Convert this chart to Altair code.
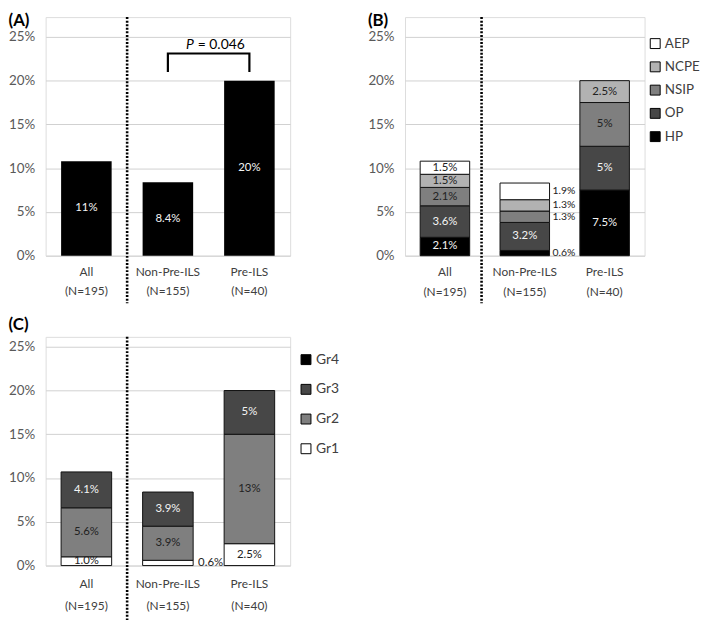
import altair as alt
import pandas as pd

FONT = "Lato"

# ---------------- data ----------------
groups = ["All", "Non-Pre-ILS", "Pre-ILS"]
group_n = ["(N=195)", "(N=155)", "(N=40)"]

# Panel A
a_values = [10.8, 8.4, 20.0]
a_labels = ["11%", "8.4%", "20%"]

# Panel B (bottom -> top)
b_types = ["HP", "OP", "NSIP", "NCPE", "AEP"]
b_colors = ["#000000", "#474747", "#7f7f7f", "#b2b2b2", "#ffffff"]
b_text_colors = ["#f4f4f4", "#f4f4f4", "#222222", "#222222", "#222222"]
b_all = [2.1, 3.6, 2.1, 1.5, 1.5]
b_non = [0.6, 3.2, 1.3, 1.3, 1.9]
b_pre = [7.5, 5.0, 5.0, 2.5, 0.0]
b_all_lab = ["2.1%", "3.6%", "2.1%", "1.5%", "1.5%"]
b_non_lab = ["0.6%", "3.2%", "1.3%", "1.3%", "1.9%"]
b_pre_lab = ["7.5%", "5%", "5%", "2.5%", ""]
b_non_outside = [True, False, True, True, True]

# Panel C (bottom -> top)
c_types = ["Gr1", "Gr2", "Gr3", "Gr4"]
c_colors = ["#ffffff", "#7f7f7f", "#474747", "#000000"]
c_text_colors = ["#222222", "#222222", "#f4f4f4", "#f4f4f4"]
c_all = [1.0, 5.6, 4.1, 0.0]
c_non = [0.6, 3.9, 3.9, 0.0]
c_pre = [2.5, 12.5, 5.0, 0.0]
c_all_lab = ["1.0%", "5.6%", "4.1%", ""]
c_non_lab = ["0.6%", "3.9%", "3.9%", ""]
c_pre_lab = ["2.5%", "13%", "5%", ""]
c_non_outside = [True, False, False, False]

p_text = "= 0.046"
bracket_low, bracket_high = 21.0, 23.1
y_ticks = [0, 5, 10, 15, 20, 25]

# ---------------- layout settings ----------------
W_A = 247
W_B = 242
PER = 8.84              # px per percent
TOP_A = 27.26           # domain top (dotted line starts here)
TOP_C = 26.13
H_A = round(TOP_A * PER)
H_C = round(TOP_C * PER)

label_expr = (
    "[datum.value, " + str(group_n) + "[indexof(" + str(groups) + ", datum.value)]]"
)


def x_enc(line_height, pad, **kw):
    return alt.X(
        "group:N",
        scale=alt.Scale(domain=groups, paddingInner=0.38, paddingOuter=0.19),
        axis=alt.Axis(
            title=None, domain=False, ticks=False, grid=False, labelAngle=0,
            labelExpr=label_expr, labelLineHeight=line_height,
            labelFont=FONT, labelFontSize=12, labelColor="#404040",
            labelPadding=pad, labelOverlap=False,
        ),
        **kw,
    )


def y_enc(field, top, **kw):
    return alt.Y(
        field,
        scale=alt.Scale(domain=[0, top], nice=False, zero=True),
        axis=alt.Axis(
            title=None, domain=False, ticks=False, values=y_ticks,
            labelExpr="datum.value + '%'", labelFont=FONT, labelFontSize=13.5,
            labelColor="#595959", labelPadding=11, gridColor="#d0d0d0",
            gridWidth=1,
        ),
        **kw,
    )


def sep_rule(h, off, extra):
    df = pd.DataFrame({"group": [groups[0]]})
    return alt.Chart(df).mark_rule(
        color="black", strokeWidth=2.6, strokeDash=[2, 1.6], xOffset=off
    ).encode(
        x=alt.X("group:N", bandPosition=1),
        y=alt.value(0),
        y2=alt.value(h + extra),
    )


def stacked_frame(types, series, labels, text_colors, outside=None):
    rows = []
    for g, vals, labs in zip(groups, series, labels):
        base = 0.0
        for i, (t, v, l) in enumerate(zip(types, vals, labs)):
            out = bool(outside[i]) if (outside is not None and g == groups[1]) else False
            rows.append(dict(group=g, type=t, order=i, v0=base, v1=base + v,
                             mid=base + v / 2, label=l,
                             tcolor=("#222222" if out else text_colors[i]),
                             outside=out))
            base += v
    return pd.DataFrame(rows)


def title(t, off):
    return alt.TitleParams(t, anchor="start", font=FONT, fontSize=17,
                           fontWeight="bold", offset=off, color="black")


def gap(w):
    return 0.38 * (w / 3) / 2   # half of the inner padding between bands


# ---------------- Panel A ----------------
dfa = pd.DataFrame({"group": groups, "value": a_values, "label": a_labels})
bars_a = alt.Chart(dfa).mark_bar(color="black", width=alt.RelativeBandSize(1.0)).encode(
    x=x_enc(19, 11), y=y_enc("value:Q", TOP_A)
)
text_a = alt.Chart(dfa).transform_calculate(mid="datum.value / 2").mark_text(
    font=FONT, fontSize=11.5, color="#f4f4f4"
).encode(x=alt.X("group:N"), y=alt.Y("mid:Q"), text="label:N")

dfbr = pd.DataFrame({
    "group": [groups[1], groups[1], groups[2], groups[2]],
    "y": [bracket_low, bracket_high, bracket_high, bracket_low],
    "k": [0, 1, 2, 3],
})
bracket = alt.Chart(dfbr).mark_line(
    color="black", strokeWidth=2.2, strokeJoin="miter", strokeCap="butt"
).encode(x="group:N", y="y:Q", order="k:Q")

dfp = pd.DataFrame({"group": [groups[1]], "y": [bracket_high + 0.55]})
p_italic = alt.Chart(dfp).mark_text(
    text="P", font=FONT, fontSize=14, fontStyle="italic", align="right",
    baseline="alphabetic", dx=gap(W_A) - 15
).encode(x=alt.X("group:N", bandPosition=1), y="y:Q")
p_rest = alt.Chart(dfp).mark_text(
    text=p_text, font=FONT, fontSize=14, align="left", baseline="alphabetic",
    dx=gap(W_A) - 11
).encode(x=alt.X("group:N", bandPosition=1), y="y:Q")

panel_a = alt.layer(
    bars_a, text_a, bracket, p_italic, p_rest, sep_rule(H_A, gap(W_A), 48)
).properties(width=W_A, height=H_A, title=title("(A)", -14))

# ---------------- Panel B ----------------
dfb = stacked_frame(b_types, [b_all, b_non, b_pre],
                    [b_all_lab, b_non_lab, b_pre_lab], b_text_colors, b_non_outside)
dfb = dfb[dfb["v1"] > dfb["v0"]]
color_b = alt.Color(
    "type:N",
    scale=alt.Scale(domain=b_types[::-1], range=b_colors[::-1]),
    legend=alt.Legend(
        title=None, orient="none", legendX=W_B + 4, legendY=20,
        symbolType="square", symbolSize=100, symbolStrokeColor="black",
        symbolStrokeWidth=1, labelFont=FONT, labelFontSize=13.5,
        labelColor="#404040", rowPadding=8.5, labelOffset=3, padding=0,
    ),
)
bars_b = alt.Chart(dfb).mark_bar(
    stroke="#111111", strokeWidth=1, width=alt.RelativeBandSize(1.0)
).encode(
    x=x_enc(20, 11), y=y_enc("v0:Q", TOP_A), y2="v1:Q", color=color_b,
    order=alt.Order("order:Q"),
)
text_b_in = alt.Chart(dfb).transform_filter("!datum.outside").mark_text(
    font=FONT, fontSize=11.5
).encode(x="group:N", y="mid:Q", text="label:N",
         color=alt.Color("tcolor:N", scale=None))
text_b_out = alt.Chart(dfb).transform_filter("datum.outside").mark_text(
    font=FONT, fontSize=10.5, align="left", dx=3, color="#222222"
).encode(x=alt.X("group:N", bandPosition=1), y="mid:Q", text="label:N")

panel_b = alt.layer(
    bars_b, text_b_in, text_b_out, sep_rule(H_A, 12, 48)
).properties(width=W_B, height=H_A, title=title("(B)", -14))

# ---------------- Panel C ----------------
dfc = stacked_frame(c_types, [c_all, c_non, c_pre],
                    [c_all_lab, c_non_lab, c_pre_lab], c_text_colors, c_non_outside)
dfc = dfc[dfc["v1"] > dfc["v0"]]
color_c = alt.Color(
    "type:N",
    scale=alt.Scale(domain=c_types[::-1], range=c_colors[::-1]),
    legend=alt.Legend(
        title=None, orient="none", legendX=W_A + 9, legendY=16,
        symbolType="square", symbolSize=100, symbolStrokeColor="black",
        symbolStrokeWidth=1, labelFont=FONT, labelFontSize=14,
        labelColor="#404040", rowPadding=16, labelOffset=3, padding=0,
    ),
)
bars_c = alt.Chart(dfc).mark_bar(
    stroke="#111111", strokeWidth=1, width=alt.RelativeBandSize(1.0)
).encode(
    x=x_enc(22, 13), y=y_enc("v0:Q", TOP_C), y2="v1:Q", color=color_c,
    order=alt.Order("order:Q"),
)
text_c_in = alt.Chart(dfc).transform_filter("!datum.outside").mark_text(
    font=FONT, fontSize=11.5
).encode(x="group:N", y="mid:Q", text="label:N",
         color=alt.Color("tcolor:N", scale=None))
text_c_out = alt.Chart(dfc).transform_filter("datum.outside").mark_text(
    font=FONT, fontSize=11.5, align="left", dx=5, color="#222222"
).encode(x=alt.X("group:N", bandPosition=1), y="mid:Q", text="label:N")

panel_c = alt.layer(
    bars_c, text_c_in, text_c_out, sep_rule(H_C, gap(W_A), 70)
).properties(width=W_A, height=H_C, title=title("(C)", 2))

top = alt.hconcat(panel_a, panel_b, spacing=77).resolve_scale(color="independent")
chart = alt.vconcat(top, panel_c, spacing=10).resolve_scale(color="independent").configure_view(
    stroke=None
).configure(padding=0, font=FONT)

chart.save("out.html", embed_options={"renderer": "svg", "actions": False})
